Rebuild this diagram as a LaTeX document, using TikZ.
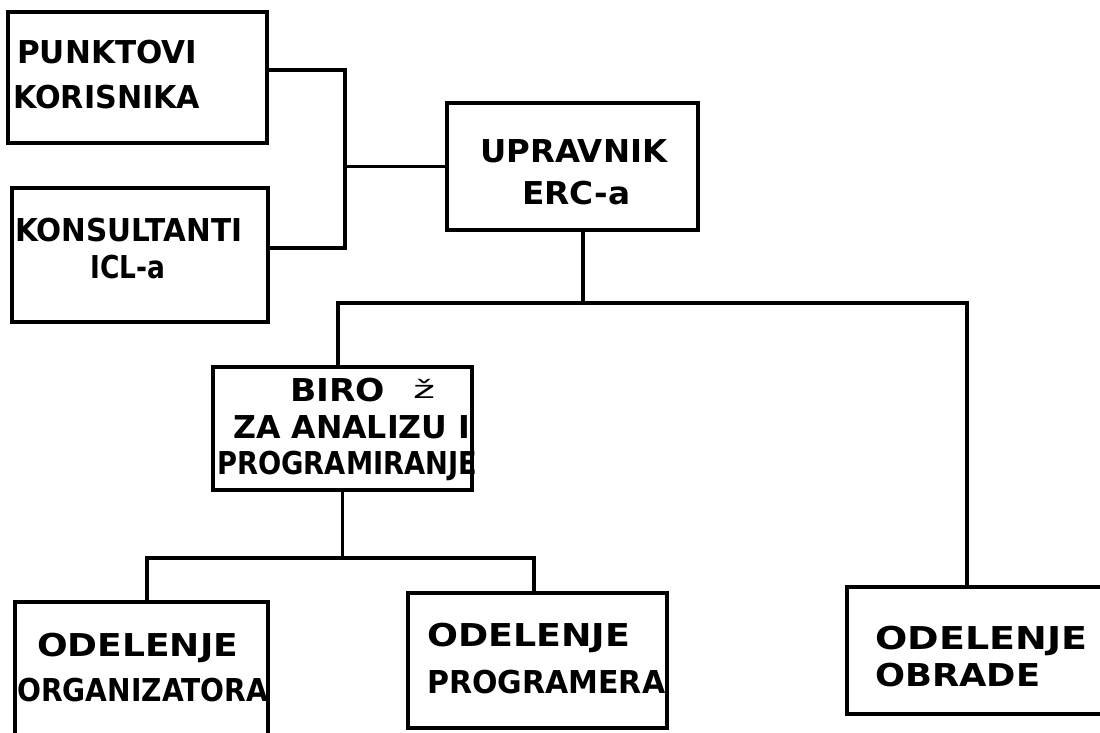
\documentclass[tikz,border=0pt]{standalone}
\usepackage{fontspec}
\usepackage{graphicx}
\newfontfamily\lettfont{DejaVu Sans}
\newcommand\fitw[2]{\resizebox{#1pt}{\height}{#2}}
\begin{document}
\begin{tikzpicture}[x=1pt,y=-1pt,
  box/.style={draw=black,line width=3.4pt,rectangle,inner sep=0pt},
  conn/.style={draw=black,line width=3.2pt},
  txt/.style={inner sep=0pt,anchor=base west,font={\lettfont\bfseries\fontsize{31.5}{36}\selectfont}}]
\useasboundingbox[fill=white] (0,0) rectangle (1100,733);
% boxes
\node[box,minimum width=259pt,minimum height=131pt] (p) at (137.5,77.5) {};
\node[box,minimum width=256pt,minimum height=134pt] (k) at (140,255) {};
\node[box,minimum width=251pt,minimum height=127pt] (u) at (572.5,166.5) {};
\node[box,minimum width=259pt,minimum height=123pt] (b) at (342.5,428.5) {};
\node[box,minimum width=253pt,minimum height=143pt] (o1) at (141.5,673.5) {};
\node[box,minimum width=259pt,minimum height=135pt] (o2) at (537.5,660.5) {};
\node[box,minimum width=263pt,minimum height=127pt] (o3) at (978.5,650.5) {};
% junctions
\coordinate (j1) at (345,166.5);
\coordinate (j2) at (583,303);
\coordinate (j3) at (342.5,558);
% connectors
\draw[conn] ([yshift=7.5pt]p.east) -| (j1) |- ([yshift=7pt]k.east);
\draw[conn] (j1) -- (u.west);
\draw[conn] ([xshift=10.5pt]u.south) -- (j2);
\draw[conn] ([xshift=-4.5pt]b.north) |- (j2) -| ([xshift=-11.5pt]o3.north);
\draw[conn] (b.south) -- (j3);
\draw[conn] ([xshift=5.5pt]o1.north) |- (j3) -| ([xshift=-3.5pt]o2.north);
% texts
\node[txt] (tp1) at (17,63.5) {\fitw{180}{PUNKTOVI}};
\node[txt] (tp2) at (13,108.5) {\fitw{187}{KORISNIKA}};
\node[txt] (tk1) at (15,241.5) {\fitw{227}{KONSULTANTI}};
\node[txt] (tk2) at (90,278.5) {\fitw{75}{ICL-a}};
\node[txt] (tu1) at (480,162.5) {\fitw{187}{UPRAVNIK}};
\node[txt] (tu2) at (522,204.5) {\fitw{108}{ERC-a}};
\node[txt] (tb1) at (290,401.5) {\fitw{95}{BIRO}};
\node[txt,font={\lettfont\fontsize{24}{28}\selectfont}] (tb0) at (413,398) {\fitw{22}{ž}};
\node[txt] (tb2) at (233,438.5) {\fitw{237}{ZA ANALIZU I}};
\node[txt] (tb3) at (217,474.5) {\fitw{260}{PROGRAMIRANJE}};
\node[txt] (to11) at (37,656.5) {\fitw{201}{ODELENJE}};
\node[txt] (to12) at (17,701.5) {\fitw{251}{ORGANIZATORA}};
\node[txt] (to21) at (427,646.5) {\fitw{203}{ODELENJE}};
\node[txt] (to22) at (427,693.5) {\fitw{238}{PROGRAMERA}};
\node[txt] (to31) at (875,649.5) {\fitw{212}{ODELENJE}};
\node[txt] (to32) at (875,686.5) {\fitw{165}{OBRADE}};
\end{tikzpicture}
\end{document}
